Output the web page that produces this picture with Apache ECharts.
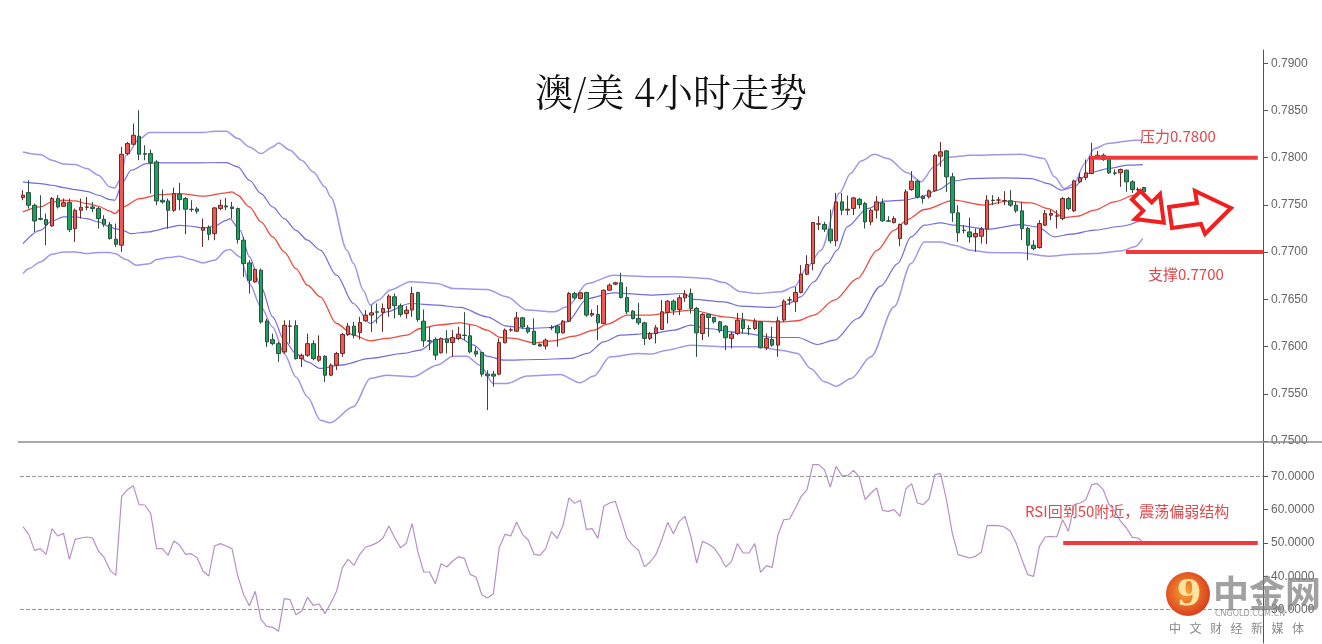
<!DOCTYPE html>
<html><head><meta charset="utf-8">
<script src="https://cdn.jsdelivr.net/npm/echarts@6/dist/echarts.min.js"></script>
<style>html,body{margin:0;padding:0;background:#fff}#c{width:1322px;height:644px}</style>
</head><body><div id="c"></div>
<script>
// [open, close, low, high] per 4-hour bar
const ohlc = [
[.77577,.77602,.77549,.77655],[.77630,.77496,.77461,.77761],[.77496,.77330,.77214,.77514],[.77355,.77348,.77337,.77602],[.77344,.77291,.77073,.77408],
[.77277,.77567,.77267,.77584],[.77567,.77478,.77461,.77602],[.77485,.77524,.77478,.77567],[.77524,.77238,.77214,.77567],[.77249,.77443,.77108,.77461],
[.77443,.77475,.77355,.77567],[.77475,.77478,.77443,.77584],[.77478,.77461,.77426,.77531],[.77461,.77355,.77249,.77478],[.77348,.77295,.77267,.77390],
[.77291,.77143,.77133,.77320],[.77136,.77083,.77055,.77302],[.77073,.78036,.77002,.78114],[.78043,.78149,.78026,.78167],[.78142,.78237,.78131,.78361],
[.78227,.78036,.77973,.78502],[.78043,.78036,.77973,.78131],[.78043,.77948,.77620,.78086],[.77955,.77542,.77496,.77973],[.77549,.77531,.77514,.77662],
[.77542,.77443,.77249,.77567],[.77443,.77620,.77426,.77683],[.77613,.77556,.77443,.77733],[.77567,.77454,.77189,.77584],[.77454,.77450,.77426,.77549],
[.77457,.77433,.77408,.77478],[.77231,.77260,.77055,.77355],[.77260,.77189,.77126,.77284],[.77196,.77468,.77126,.77478],[.77461,.77496,.77443,.77556],
[.77489,.77478,.77443,.77574],[.77478,.77461,.77355,.77531],[.77461,.77133,.77090,.77471],[.77126,.76878,.76737,.77161],[.76886,.76702,.76561,.76914],
[.76684,.76818,.76674,.76826],[.76808,.76261,.76243,.76826],[.76271,.76049,.75996,.76296],[.76073,.76031,.76013,.76137],[.76031,.75925,.75837,.76049],
[.75943,.76225,.75925,.76278],[.76215,.76218,.76031,.76278],[.76222,.75872,.75862,.76278],[.75872,.75908,.75784,.75925],[.75908,.76031,.75890,.76137],
[.76031,.75872,.75855,.76066],[.75855,.75897,.75837,.76119],[.75897,.75696,.75625,.75908],[.75697,.75803,.75687,.75821],[.75803,.75927,.75750,.75944],
[.75927,.76128,.75891,.76145],[.76128,.76216,.76110,.76251],[.76216,.76121,.76086,.76262],[.76149,.76255,.76075,.76315],[.76273,.76333,.76262,.76386],
[.76333,.76357,.76156,.76439],[.76368,.76364,.76244,.76456],[.76361,.76403,.76156,.76456],[.76403,.76534,.76315,.76552],[.76527,.76432,.76297,.76562],
[.76432,.76340,.76315,.76456],[.76350,.76386,.76297,.76428],[.76386,.76562,.76315,.76633],[.76573,.76287,.76262,.76580],[.76269,.76061,.75998,.76393],
[.76061,.76057,.75962,.76209],[.76075,.75909,.75856,.76096],[.75934,.76086,.75927,.76096],[.76079,.76043,.75927,.76174],[.76043,.76096,.75891,.76174],
[.76086,.76131,.76068,.76209],[.76121,.76117,.76068,.76364],[.76114,.75944,.75927,.76227],[.75951,.75920,.75891,.75998],[.75937,.75708,.75680,.75944],
[.75708,.75690,.75327,.75750],[.75708,.75687,.75574,.75743],[.75708,.76043,.75697,.76086],[.76040,.76174,.76033,.76191],[.76174,.76178,.76156,.76202],
[.76163,.76304,.76156,.76368],[.76304,.76209,.76191,.76315],[.76198,.76156,.76138,.76227],[.76163,.76022,.76015,.76297],[.76022,.76005,.75998,.76033],
[.76005,.76068,.75969,.76086],[.76202,.76198,.76174,.76227],[.76216,.76145,.75998,.76227],[.76145,.76269,.76138,.76280],[.76269,.76562,.76262,.76580],
[.76562,.76516,.76499,.76580],[.76509,.76569,.76499,.76580],[.76573,.76333,.76315,.76580],[.76333,.76350,.76315,.76393],[.76340,.76251,.76068,.76439],
[.76244,.76597,.76237,.76604],[.76597,.76650,.76590,.76668],[.76661,.76675,.76650,.76686],[.76675,.76520,.76509,.76781],[.76520,.76368,.76343,.76633],
[.76375,.76297,.76287,.76386],[.76297,.76251,.76227,.76463],[.76251,.76086,.76015,.76262],[.76086,.76138,.76068,.76156],[.76138,.76198,.76033,.76227],
[.76181,.76368,.76174,.76492],[.76361,.76481,.76244,.76492],[.76481,.76386,.76333,.76499],[.76393,.76516,.76333,.76545],[.76516,.76555,.76474,.76597],
[.76562,.76403,.76350,.76615],[.76403,.76145,.75891,.76421],[.76138,.76340,.76068,.76357],[.76340,.76308,.76103,.76345],[.76308,.76262,.76244,.76315],
[.76262,.76167,.76145,.76273],[.76216,.76093,.75962,.76227],[.76086,.76131,.75980,.76156],[.76138,.76280,.76121,.76357],[.76280,.76191,.76138,.76357],
[.76191,.76188,.76121,.76227],[.76191,.76269,.76174,.76297],[.76262,.75987,.75980,.76269],[.75987,.76086,.75962,.76138],[.76075,.76015,.75998,.76209],
[.76015,.76273,.75891,.76315],[.76280,.76481,.76262,.76499],[.76492,.76495,.76439,.76527],[.76474,.76573,.76368,.76633],[.76573,.76767,.76562,.76862],
[.76766,.76868,.76755,.76967],[.76879,.77313,.76808,.77320],[.77296,.77300,.77232,.77380],[.77292,.77243,.77214,.77320],[.77243,.77119,.77091,.77451],
[.77119,.77532,.77063,.77627],[.77532,.77444,.77391,.77627],[.77444,.77454,.77391,.77599],[.77461,.77574,.77391,.77585],[.77560,.77504,.77461,.77574],
[.77514,.77320,.77250,.77532],[.77320,.77444,.77285,.77461],[.77444,.77532,.77355,.77592],[.77521,.77331,.77320,.77567],[.77331,.77328,.77320,.77380],
[.77313,.77355,.77303,.77380],[.77144,.77292,.77063,.77303],[.77296,.77638,.77285,.77663],[.77663,.77751,.77649,.77857],[.77751,.77585,.77567,.77769],
[.77592,.77567,.77514,.77603],[.77585,.77649,.77567,.77663],[.77649,.78026,.77638,.78037],[.78016,.78062,.77903,.78167],[.78072,.77797,.77638,.78079],
[.77797,.77416,.77320,.77839],[.77416,.77204,.77108,.77497],[.77232,.77228,.77197,.77285],[.77214,.77161,.77098,.77366],[.77161,.77197,.77003,.77250],
[.77168,.77243,.77091,.77267],[.77243,.77550,.77084,.77603],[.77550,.77546,.77497,.77603],[.77550,.77553,.77507,.77585],[.77543,.77546,.77497,.77645],
[.77543,.77497,.77479,.77656],[.77497,.77437,.77416,.77532],[.77437,.77250,.77126,.77532],[.77250,.77073,.76914,.77267],[.77073,.77038,.77020,.77126],
[.77048,.77303,.77038,.77338],[.77285,.77409,.77274,.77444],[.77391,.77409,.77338,.77451],[.77380,.77384,.77250,.77444],[.77355,.77567,.77338,.77585],
[.77567,.77461,.77444,.77585],[.77437,.77754,.77426,.77769],[.77744,.77790,.77733,.77839],[.77790,.77839,.77762,.77980],[.77832,.78009,.77825,.78157],
[.78009,.78026,.77991,.78072],[.78026,.77980,.77966,.78044],[.77980,.77839,.77825,.77991],[.77839,.77835,.77814,.77874],[.77839,.77874,.77691,.77885],
[.77867,.77744,.77638,.77874],[.77744,.77663,.77627,.77762],[.77663,.77660,.77638,.77684],[.77684,.77638,.77627,.77691]
];

// Bollinger band readings: [bar index, price]
const upperOuter = [[0,.78061],[3,.78033],[5,.77973],[7,.77934],[9,.77927],[11,.77884],[13,.77814],[15,.77690],[15.8,.77680],[16.7,.77761],[17.8,.78026],[20.1,.78202],[21.8,.78266],[27,.78266],[31,.78266],[33,.78280],[35,.78280],[37,.78202],[39,.78114],[41,.78043],[43,.78114],[44,.78156],[46,.78079],[48,.77973],[50,.77849],[52,.77690],[53,.77584],[55.8,.77021],[56.9,.76880],[58.6,.76597],[59.8,.76439],[61.2,.76492],[63.2,.76597],[66.7,.76686],[71.3,.76668],[74.1,.76615],[79.9,.76605],[83.3,.76527],[86.8,.76386],[91.4,.76368],[93.7,.76421],[97.2,.76668],[101.7,.76756],[108.1,.76739],[112.1,.76739],[117.8,.76721],[120.7,.76679],[123.6,.76580],[126.5,.76562],[130.5,.76580],[132.8,.76633],[135.1,.76845],[137.4,.77021],[140.6,.77627],[142.5,.77832],[144.3,.77966],[146.6,.78037],[148.9,.77991],[152.3,.77839],[154.6,.77744],[156.9,.77903],[159.2,.78002],[163.2,.78026],[171.8,.78037],[175.8,.77991],[177.6,.77797],[179.3,.77673],[181,.77726],[182.8,.77938],[184.5,.78097],[186.8,.78150],[191.4,.78185],[192.8,.78185]];
const upperInner = [[0,.77743],[3,.77726],[5,.77708],[7,.77683],[9,.77662],[11,.77644],[13,.77602],[15,.77556],[15.8,.77549],[17.2,.77743],[18.6,.77867],[21.3,.77937],[23,.77944],[29,.77944],[35,.77948],[37,.77902],[39,.77761],[41,.77620],[43,.77478],[45,.77355],[47,.77231],[49,.77126],[51.2,.77021],[54,.76756],[56.9,.76456],[59.8,.76244],[62.6,.76368],[66.7,.76456],[71.3,.76439],[75.3,.76414],[79.9,.76315],[83.3,.76216],[86.8,.76191],[90.8,.76202],[93.7,.76262],[97.2,.76509],[101.7,.76569],[108.1,.76545],[113.8,.76562],[115.5,.76499],[120.7,.76474],[123.6,.76428],[129.3,.76414],[131.6,.76449],[133.9,.76527],[136.2,.76686],[138.5,.76880],[140.2,.77021],[141.9,.77267],[145.4,.77461],[148.3,.77539],[151.7,.77550],[154.6,.77585],[157.5,.77656],[160.3,.77754],[163.2,.77779],[169,.77786],[173.6,.77779],[176.5,.77726],[178.8,.77656],[181,.77691],[183.3,.77832],[186.8,.77885],[190.2,.77920],[192.8,.77927]];
const middle = [[0,.77425],[3,.77478],[5,.77531],[7,.77549],[9,.77542],[11,.77514],[13,.77485],[15,.77433],[15.8,.77408],[17.2,.77478],[20.1,.77567],[23.6,.77609],[27,.77620],[31,.77592],[35,.77627],[36,.77637],[37,.77602],[39,.77478],[41,.77320],[43,.77161],[45,.77002],[47,.76826],[49,.76649],[51.2,.76527],[54,.76244],[56.9,.76121],[59.8,.76061],[62.6,.76086],[66.1,.76121],[68.4,.76191],[71.3,.76227],[75.3,.76251],[77.6,.76227],[79.9,.76174],[82.2,.76096],[84.5,.76086],[88,.76040],[91.4,.76061],[94.9,.76110],[98.3,.76174],[100.6,.76237],[104.1,.76333],[108.1,.76333],[112.1,.76368],[115,.76386],[120.7,.76315],[126.5,.76269],[130.5,.76262],[133.4,.76273],[136.2,.76333],[139.7,.76492],[143.7,.76721],[147.1,.77021],[150,.77232],[152.3,.77345],[155.2,.77451],[160.3,.77550],[165.5,.77497],[169.6,.77539],[173.6,.77521],[176.5,.77461],[179.3,.77366],[181.6,.77380],[184.5,.77444],[187.9,.77532],[191.4,.77603],[192.8,.77631]];
const lowerInner = [[0,.77090],[3,.77231],[5,.77330],[7,.77373],[9,.77373],[11,.77355],[13,.77320],[15,.77267],[15.8,.77249],[17.2,.77231],[18.6,.77196],[21.8,.77214],[23,.77231],[25,.77260],[27,.77284],[29,.77274],[31,.77256],[33,.77274],[35,.77337],[35.6,.77355],[37.4,.77231],[39,.76949],[41,.76631],[43,.76314],[45,.76066],[47,.75925],[49,.75837],[51.2,.75768],[54.6,.75803],[59.8,.75874],[65.5,.75927],[68.4,.75962],[71.3,.76075],[75.3,.76086],[77.6,.76015],[79.9,.75898],[82.8,.75856],[88.5,.75863],[94.3,.75874],[97.2,.75927],[100,.76050],[102.9,.76121],[108.1,.76138],[112.1,.76174],[115,.76227],[117.8,.76191],[123.6,.76145],[129.3,.76096],[133.4,.76096],[136.8,.76022],[139.7,.76068],[143.7,.76297],[147.7,.76640],[150.6,.76879],[152.9,.77161],[155.2,.77285],[158,.77310],[160.3,.77285],[166.1,.77243],[171.8,.77292],[174.7,.77267],[177.6,.77161],[180.5,.77190],[184.5,.77232],[189.1,.77274],[192.8,.77345]];
const lowerOuter = [[0,.76772],[1,.76825],[3,.76896],[5,.76977],[7,.77002],[9,.77002],[11,.76984],[13,.76995],[15,.76995],[15.8,.76984],[17.8,.76921],[19.5,.76861],[21.8,.76878],[23,.76921],[25,.76942],[27,.76956],[29,.76921],[31,.76886],[33,.76914],[35,.77020],[35.6,.77027],[37.4,.76949],[39,.76667],[41,.76419],[43,.76208],[45,.75925],[47,.75678],[49,.75466],[51.2,.75221],[52.9,.75193],[56.9,.75362],[59.8,.75662],[62.6,.75697],[67.2,.75680],[71.3,.75803],[74.1,.75898],[76.4,.75898],[78.7,.75803],[81,.75609],[83.3,.75609],[86.8,.75687],[92.5,.75704],[95.9,.75616],[98.3,.75687],[101.1,.75891],[105.8,.75927],[108.1,.75920],[110.9,.75962],[115,.76015],[120.7,.75998],[126.5,.75998],[130.5,.75962],[133.4,.75927],[135.6,.75768],[138,.75627],[140,.75581],[142.6,.75662],[146,.75891],[150,.76421],[152.9,.76879],[155.2,.77108],[158,.77108],[160.3,.77073],[163.2,.77020],[166.1,.76996],[171.8,.76992],[176.5,.76957],[180.8,.76978],[184.5,.76985],[189.1,.77013],[191.4,.77056],[192.8,.77144]];

const rsi = [54.9,52.6,47.8,48.3,46.6,54.3,52.1,52.9,45.1,51.1,
51.5,51.8,51.5,47.6,45.6,41.8,40.3,64.0,66.0,67.2,
61.5,61.4,58.9,48.3,48.3,46.3,50.6,49.3,46.6,46.8,
45.6,41.6,40.1,49.1,49.8,49.1,48.3,40.1,34.5,31.2,
35.5,27.0,25.0,24.7,23.5,33.3,33.0,28.5,29.5,33.7,
31.3,31.7,28.8,32.0,35.5,42.6,45.1,43.3,46.6,48.8,
49.3,50.1,51.5,55.1,51.6,48.6,49.9,55.8,47.4,41.3,
41.3,37.8,43.8,42.8,44.6,45.9,45.4,40.6,39.8,34.5,
33.5,34.8,48.6,52.6,52.1,56.3,52.6,50.9,46.6,46.3,
48.3,53.4,51.4,55.3,63.5,61.9,62.8,54.1,54.3,51.4,
61.0,62.0,62.5,57.1,51.4,49.3,47.8,42.9,44.3,46.6,
51.0,56.2,52.8,56.5,58.0,52.0,44.0,50.5,49.7,48.5,
46.0,42.8,44.5,49.8,47.0,47.0,49.8,41.2,43.2,42.7,
52.5,57.0,57.2,60.5,64.0,66.0,73.5,73.5,72.0,66.8,
73.0,70.2,70.2,71.8,69.8,63.0,65.0,66.5,59.8,59.5,
60.0,58.0,66.2,67.8,62.0,61.5,63.2,70.5,70.8,63.0,
53.0,46.5,46.0,45.5,46.0,47.2,55.2,55.3,55.2,54.8,
53.5,50.0,45.0,40.5,40.0,49.0,51.8,52.0,51.8,57.0,
53.5,61.5,62.0,63.0,67.5,67.8,66.0,61.5,59.5,56.5,
54.5,51.7,51.5,50.0];

const priceTicks = [0.75,0.755,0.76,0.765,0.77,0.775,0.78,0.785,0.79];
const rsiTicks = [30,40,50,60,70];
const rsiGuides = [70,30];
const resistance = 0.78, support = 0.77, rsiLevel = 50;
const resistanceSpan = [183.7,212.6], supportSpan = [189.9,213.5], rsiSpan = [179.1,212.6];

const SLOTS = 214;
const cats = Array.from({length:SLOTS},(_,i)=>i);
const chart = echarts.init(document.getElementById('c'), null, {renderer:'canvas'});

const axisCol = '#555', labCol = '#666';
function yAx(grid, min, max, ticks) {
  return {type:'value', gridIndex:grid, position:'right', min:min, max:max, scale:true,
    splitLine:{show:false},
    axisLine:{show:true, onZero:false, lineStyle:{color:axisCol, width:1}},
    axisTick:{show:true, inside:false, length:5, customValues:ticks, lineStyle:{color:axisCol}},
    axisLabel:{show:true, customValues:ticks, margin:8, color:labCol, fontSize:12, fontFamily:'"Liberation Sans", Arial, sans-serif',
      formatter:v=>Number(v).toFixed(4)}};
}
function band(data, color, width, name){
  return {type:'line', name:name, xAxisIndex:1, yAxisIndex:0, data:data, symbol:'none', smooth:0.3, smoothMonotone:'x',
    lineStyle:{color:color, width:width}, silent:true, z:3};
}
const red = '#f03a3a', txtRed = '#e2474c';

const arrow1 = [[1140.4,191],[1151.7,202.3],[1160,194],[1163.8,222.8],[1135,219],[1143.3,210.7],[1132,199.4]];
const arrow2 = [[1169,207],[1197,203],[1195,191],[1231,208],[1205,234],[1201,224],[1172,228]];
const footerChars = ['中','文','财','经','新','媒','体'];

const graphics = [
  {type:'line', shape:{x1:18,y1:442,x2:1322,y2:442}, style:{stroke:'#8a8a8a', lineWidth:1.5}, z:50},
  {type:'text', x:671, y:92, style:{text:'澳/美 4小时走势', fontSize:38, fontFamily:'"Noto Serif CJK SC","Noto Sans CJK SC",serif', fill:'#111', align:'center', verticalAlign:'middle', textAlign:'center', textVerticalAlign:'middle'}, z:50},
  {type:'text', x:1140, y:136, style:{text:'压力0.7800', fontSize:15, fontFamily:'"Noto Sans CJK SC",sans-serif', fill:txtRed, align:'left', verticalAlign:'middle', textVerticalAlign:'middle'}, z:50},
  {type:'text', x:1148, y:274, style:{text:'支撑0.7700', fontSize:15, fontFamily:'"Noto Sans CJK SC",sans-serif', fill:txtRed, align:'left', verticalAlign:'middle', textVerticalAlign:'middle'}, z:50},
  {type:'text', x:1025, y:511, style:{text:'RSI回到50附近，震荡偏弱结构', fontSize:15, fontFamily:'"Noto Sans CJK SC",sans-serif', fill:txtRed, align:'left', verticalAlign:'middle', textVerticalAlign:'middle'}, z:50},
  {type:'polygon', shape:{points:arrow1}, style:{fill:'#fff', stroke:'#f21f1f', lineWidth:4, lineJoin:'miter'}, z:60},
  {type:'polygon', shape:{points:arrow2}, style:{fill:'#fff', stroke:'#f21f1f', lineWidth:4, lineJoin:'miter'}, z:60},
  {type:'circle', shape:{cx:1188, cy:594, r:22}, style:{fill:new echarts.graphic.RadialGradient(0.45,0.45,0.6,[{offset:0,color:'#f7a532'},{offset:1,color:'#d9361c'}])}, z:70},
  {type:'text', x:1189, y:596, style:{text:'9', fontSize:36, fontWeight:'bold', fontFamily:'"DejaVu Serif",serif', fill:'#fde3a0', align:'center', verticalAlign:'middle', textAlign:'center', textVerticalAlign:'middle'}, z:71},
  {type:'text', x:1213, y:593, style:{text:'中金网', fontSize:36, fontWeight:'bold', fontFamily:'"Noto Sans CJK SC",sans-serif', fill:'rgba(130,130,130,0.75)', align:'left', verticalAlign:'middle', textVerticalAlign:'middle'}, z:70},
  {type:'text', x:1215, y:614, style:{text:'CNGOLD.COM.CN', fontSize:8, fontFamily:'"DejaVu Sans",sans-serif', fill:'rgba(140,140,140,0.85)', align:'left', verticalAlign:'middle', textVerticalAlign:'middle'}, z:70}
];
footerChars.forEach((ch,k)=>graphics.push({type:'text', x:1175 + k*20.5, y:628, style:{text:ch, fontSize:12, fontFamily:'"Noto Sans CJK SC",sans-serif', fill:'#8a8a8a', align:'center', verticalAlign:'middle', textAlign:'center', textVerticalAlign:'middle'}, z:70}));

const option = {
  animation:false,
  backgroundColor:'#fff',
  grid:[
    {left:20, right:59, top:50, height:391, outerBoundsMode:'none', containLabel:false},
    {left:20, right:59, top:443, height:200, outerBoundsMode:'none', containLabel:false}
  ],
  xAxis:[
    {type:'category', gridIndex:0, data:cats, boundaryGap:true, show:false},
    {type:'value', gridIndex:0, min:-0.5, max:SLOTS-0.5, show:false},
    {type:'value', gridIndex:1, min:-0.5, max:SLOTS-0.5, show:false}
  ],
  yAxis:[ yAx(0, 0.75, 0.7914, priceTicks), yAx(1, 20, 80, rsiTicks) ],
  series:[
    band(upperOuter, '#a196ea', 1.5, 'uo'),
    band(lowerOuter, '#a196ea', 1.5, 'lo'),
    band(upperInner, '#6f6de0', 1.2, 'ui'),
    band(lowerInner, '#6f6de0', 1.2, 'li'),
    band(middle, '#ee4b3e', 1.3, 'mid'),
    {type:'candlestick', xAxisIndex:0, yAxisIndex:0, data:ohlc, barWidth:4, z:5,
      itemStyle:{color:'#ec5a52', color0:'#1aa35f', borderColor:'#6b2b27', borderColor0:'#2a5040', borderWidth:1}},
    {type:'line', xAxisIndex:1, yAxisIndex:0, data:[[resistanceSpan[0],resistance],[resistanceSpan[1],resistance]], symbol:'none', lineStyle:{color:red, width:4}, z:8, silent:true},
    {type:'line', xAxisIndex:1, yAxisIndex:0, data:[[supportSpan[0],support],[supportSpan[1],support]], symbol:'none', lineStyle:{color:red, width:4}, z:8, silent:true},
    {type:'line', xAxisIndex:2, yAxisIndex:1, data:rsi.map((v,i)=>[i,v]), symbol:'none', lineStyle:{color:'#b88fc6', width:1.2}, z:4, silent:true,
      markLine:{silent:true, symbol:'none', label:{show:false}, lineStyle:{type:'dashed', color:'#9a9a9a', width:1},
        data:rsiGuides.map(v=>({yAxis:v}))}},
    {type:'line', xAxisIndex:2, yAxisIndex:1, data:[[rsiSpan[0],rsiLevel],[rsiSpan[1],rsiLevel]], symbol:'none', lineStyle:{color:red, width:4}, z:8, silent:true}
  ],
  graphic:graphics
};
chart.setOption(option);
</script>
</body></html>
